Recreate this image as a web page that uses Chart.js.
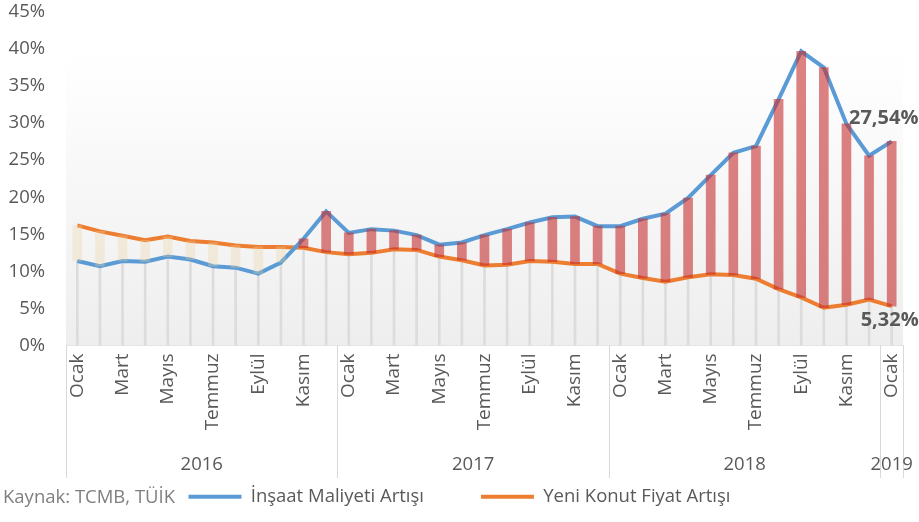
<!DOCTYPE html>
<html>
<head>
<meta charset="utf-8">
<script src="https://cdn.jsdelivr.net/npm/chart.js@4.4.1/dist/chart.umd.min.js"></script>
<style>
  html, body { margin: 0; padding: 0; background: #fff; }
  #wrap { width: 919px; height: 522px; }
</style>
</head>
<body>
<div id="wrap"><canvas id="myChart" width="919" height="522"></canvas></div>
<script>
// aylar ve yillar
const months = ['Ocak', 'Şubat', 'Mart', 'Nisan', 'Mayıs', 'Haziran', 'Temmuz', 'Ağustos', 'Eylül', 'Ekim', 'Kasım', 'Aralık'];
const years = ['2016', '2017', '2018', '2019'];
const yearCounts = [12, 12, 12, 1];

// Insaat maliyeti artisi (%)
const insaatMaliyeti = [
  11.4, 10.7, 11.4, 11.3, 12.0, 11.6, 10.7, 10.5, 9.7, 11.2, 14.4, 18.1,
  15.2, 15.7, 15.5, 14.9, 13.6, 13.9, 14.9, 15.7, 16.6, 17.3, 17.4, 16.1,
  16.1, 17.1, 17.8, 19.9, 23.0, 26.0, 26.9, 33.2, 39.7, 37.5, 29.9, 25.6,
  27.54
];
// Yeni konut fiyat artisi (%)
const yeniKonut = [
  16.2, 15.4, 14.8, 14.2, 14.7, 14.1, 13.9, 13.5, 13.3, 13.3, 13.2, 12.6,
  12.3, 12.5, 13.0, 12.9, 12.0, 11.5, 10.8, 10.9, 11.4, 11.3, 11.0, 11.0,
  9.7, 9.1, 8.6, 9.2, 9.6, 9.5, 9.0, 7.6, 6.5, 5.1, 5.5, 6.2,
  5.32
];

const yTicks = [0, 5, 10, 15, 20, 25, 30, 35, 40, 45];
const sourceText = 'Kaynak: TCMB, TÜİK';

// ------------------------------------------------------------
let labels = [];
yearCounts.forEach(n => { labels = labels.concat(months.slice(0, n)); });

const gapBars = insaatMaliyeti.map((v, i) => [Math.min(v, yeniKonut[i]), Math.max(v, yeniKonut[i])]);
const gapColors = insaatMaliyeti.map((v, i) => v >= yeniKonut[i] ? 'rgba(196, 46, 46, 0.6)' : 'rgba(235, 212, 160, 0.3)');
const dropLines = insaatMaliyeti.map((v, i) => [0, Math.min(v, yeniKonut[i])]);

const fmt = v => v.toFixed(2).replace('.', ',') + '%';
const FONT = "'Open Sans', sans-serif";
const TXT = '#595959';

// arka plan gradyani
const plotBg = {
  id: 'plotBg',
  beforeDatasetsDraw(chart) {
    const {ctx, chartArea: a} = chart;
    const top = a.top + 40;
    const g = ctx.createLinearGradient(0, top, 0, a.bottom);
    g.addColorStop(0, '#ffffff');
    g.addColorStop(1, '#eeeeee');
    ctx.save();
    ctx.fillStyle = g;
    ctx.fillRect(a.left, top, a.right - a.left, a.bottom - top);
    ctx.restore();
  }
};

// yil satiri, son deger etiketleri, kaynak
const extras = {
  id: 'extras',
  afterDraw(chart) {
    const {ctx, chartArea: a} = chart;
    const x = chart.scales.x;
    ctx.save();
    ctx.strokeStyle = '#d9d9d9';
    ctx.lineWidth = 1;
    ctx.fillStyle = TXT;
    ctx.font = '18.5px ' + FONT;
    ctx.textAlign = 'center';
    ctx.textBaseline = 'middle';
    let start = 0;
    years.forEach((yr, k) => {
      const end = start + yearCounts[k];
      const x0 = start === 0 ? a.left : (x.getPixelForValue(start - 1) + x.getPixelForValue(start)) / 2;
      const x1 = end >= labels.length ? a.right : (x.getPixelForValue(end - 1) + x.getPixelForValue(end)) / 2;
      [x0, x1].forEach(px => {
        ctx.beginPath();
        ctx.moveTo(Math.round(px) + 0.5, a.bottom);
        ctx.lineTo(Math.round(px) + 0.5, 478);
        ctx.stroke();
      });
      ctx.fillText(yr, (x0 + x1) / 2, 465);
      start = end;
    });

    // son degerler
    const last = labels.length - 1;
    const pb = chart.getDatasetMeta(0).data[last];
    const po = chart.getDatasetMeta(1).data[last];
    ctx.font = 'bold 20px ' + FONT;
    ctx.fillText(fmt(insaatMaliyeti[last]), pb.x - 8, pb.y - 23);
    ctx.fillText(fmt(yeniKonut[last]), po.x - 2, po.y + 14);

    ctx.font = '18.5px ' + FONT;
    ctx.fillStyle = '#7f7f7f';
    ctx.textAlign = 'left';
    ctx.fillText(sourceText, 3, 498);
    ctx.restore();
  }
};

const ctx = document.getElementById('myChart').getContext('2d');
const chart = new Chart(ctx, {
  type: 'line',
  plugins: [plotBg, extras],
  data: {
    labels: labels,
    datasets: [
      {
        label: 'İnşaat Maliyeti Artışı',
        data: insaatMaliyeti,
        borderColor: '#5b9bd5',
        backgroundColor: '#5b9bd5',
        borderWidth: 4,
        pointRadius: 0,
        tension: 0,
        order: 1
      },
      {
        label: 'Yeni Konut Fiyat Artışı',
        data: yeniKonut,
        borderColor: '#ed7d31',
        backgroundColor: '#ed7d31',
        borderWidth: 4,
        pointRadius: 0,
        tension: 0,
        order: 1
      },
      {
        type: 'bar',
        label: 'fark',
        data: gapBars,
        backgroundColor: gapColors,
        barThickness: 9,
        grouped: false,
        order: 0
      },
      {
        type: 'bar',
        label: 'drop',
        data: dropLines,
        backgroundColor: '#dcdcdc',
        barThickness: 2,
        grouped: false,
        order: 2
      }
    ]
  },
  options: {
    responsive: false,
    animation: false,
    layout: { padding: { top: 0, right: 0, left: 0, bottom: 6 } },
    plugins: {
      tooltip: { enabled: false },
      legend: {
        position: 'bottom',
        labels: {
          font: { family: FONT, size: 18.5 },
          color: TXT,
          boxWidth: 53,
          boxHeight: 4,
          padding: 57,
          filter: item => item.datasetIndex < 2,
          generateLabels: (c) => {
            const items = Chart.defaults.plugins.legend.labels.generateLabels(c);
            items.forEach(it => { it.lineWidth = 0; it.fillStyle = it.strokeStyle; });
            return items;
          }
        }
      }
    },
    scales: {
      x: {
        offset: true,
        grid: { display: false, drawTicks: false },
        border: { display: true, color: '#d9d9d9', width: 1 },
        ticks: {
          autoSkip: false,
          minRotation: 90,
          maxRotation: 90,
          padding: 8,
          color: TXT,
          font: { family: FONT, size: 19 },
          callback: function (val, i) { return i % 2 === 0 ? this.getLabelForValue(val) : ''; }
        },
        afterFit: s => { s.height = 85; s.paddingRight = 16; }
      },
      y: {
        min: 0,
        max: 45,
        afterBuildTicks: s => { s.ticks = yTicks.map(v => ({ value: v })); },
        grid: { display: false, drawTicks: false },
        border: { display: false },
        ticks: {
          padding: 21,
          color: TXT,
          font: { family: FONT, size: 18.5 },
          callback: v => v + '%'
        },
        afterFit: s => { s.width = 66; s.paddingTop = 12; }
      }
    }
  }
});
</script>
</body>
</html>
